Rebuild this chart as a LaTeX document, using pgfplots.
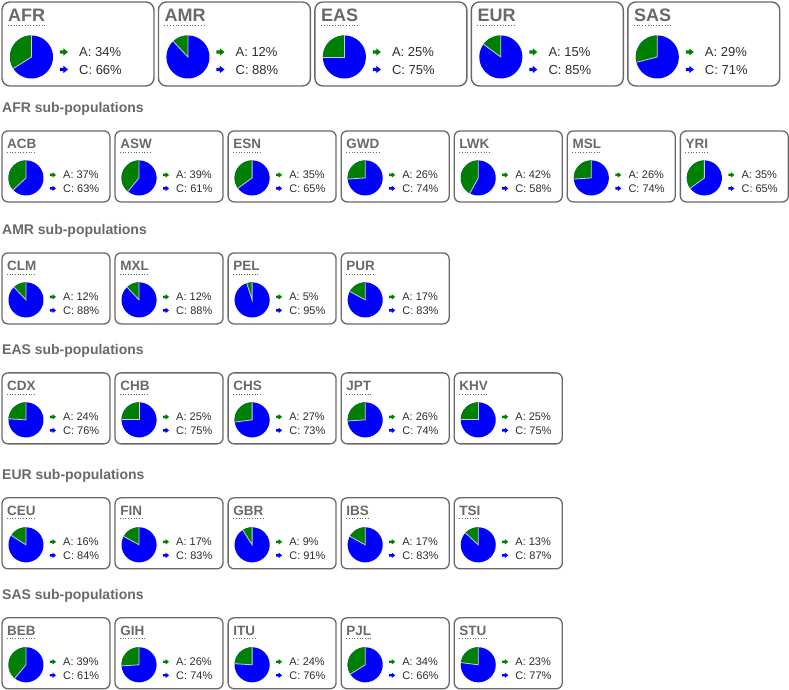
\documentclass[border=0pt]{standalone}
\usepackage{pgfplots}
\pgfplotsset{compat=1.18}
\usepackage{fontspec}
\setmainfont{Liberation Sans}
\definecolor{pgreen}{RGB}{0,128,0}
\definecolor{pblue}{RGB}{0,0,255}
\definecolor{boxgray}{RGB}{105,105,105}
\definecolor{titlegray}{RGB}{105,105,105}
\definecolor{txt}{RGB}{45,45,45}
\definecolor{sep}{RGB}{205,205,215}

% pie: cx, cy, r, A
\newcommand{\pie}[4]{%
  \addplot[fill=pblue, draw=none, domain=0:360, samples=91, variable=\t]
     ({#1+#3*cos(\t)},{#2-#3*sin(\t)}) -- cycle;
  \addplot[fill=pgreen, draw=none, domain=90:{90+3.6*#4}, samples=45, variable=\t]
     ({#1+#3*cos(\t)},{#2-#3*sin(\t)}) -- (axis cs:#1,#2) -- cycle;
  \draw[sep, line width=0.8pt] (axis cs:#1,{#2-#3}) -- (axis cs:#1,#2) -- (axis cs:{#1+#3*cos(90+3.6*#4)},{#2-#3*sin(90+3.6*#4)});
}
% arrow: color, x, y, scale
\newcommand{\arr}[4]{%
  \fill[#1] (axis cs:#2,#3) ++(0,{1.6*#4}) -- ++({3.5*#4},0) -- ++(0,{2*#4}) -- ++({4.5*#4},{-3.6*#4}) -- ++({-4.5*#4},{-3.6*#4}) -- ++(0,{2*#4}) -- ++({-3.5*#4},0) -- cycle;
}
% big box: x0, name, A, C
\newcommand{\bigbox}[4]{%
  \draw[boxgray, line width=1.4pt, rounded corners=8pt] (axis cs:#1,2) rectangle (axis cs:{#1+152},86);
  \node[anchor=base west, inner sep=0pt, font=\fontsize{18}{20}\selectfont\bfseries, text=titlegray] (T) at (axis cs:{#1+6},22) {#2};
  \draw[titlegray, dotted, line width=0.8pt] ([yshift=-3pt]T.base west) -- ([yshift=-3pt]T.base east);
  \pie{#1+29.5}{57}{21.5}{#3}
  \arr{pgreen}{#1+58}{52}{1}
  \arr{pblue}{#1+58}{69.5}{1}
  \node[anchor=west, inner sep=0pt, font=\fontsize{13}{15}\selectfont, text=txt] at (axis cs:{#1+77},52.5) {A: #3\%};
  \node[anchor=west, inner sep=0pt, font=\fontsize{13}{15}\selectfont, text=txt] at (axis cs:{#1+77},70) {C: #4\%};
}
% small box: x0, y0, name, A, C
\newcommand{\smallbox}[5]{%
  \draw[boxgray, line width=1.3pt, rounded corners=6pt] (axis cs:#1,#2) rectangle (axis cs:{#1+108},{#2+71});
  \node[anchor=base west, inner sep=0pt, font=\fontsize{13.5}{15}\selectfont\bfseries, text=titlegray] (T) at (axis cs:{#1+5},{#2+18}) {#3};
  \draw[titlegray, dotted, line width=0.7pt] ([yshift=-3pt]T.base west) -- ([yshift=-3pt]T.base east);
  \pie{#1+24}{#2+47}{17.5}{#4}
  \arr{pgreen}{#1+48}{#2+44}{0.75}
  \arr{pblue}{#1+48}{#2+57.5}{0.75}
  \node[anchor=west, inner sep=0pt, font=\fontsize{11}{13}\selectfont, text=txt] at (axis cs:{#1+61},{#2+44}) {A: #4\%};
  \node[anchor=west, inner sep=0pt, font=\fontsize{11}{13}\selectfont, text=txt] at (axis cs:{#1+61},{#2+57.5}) {C: #5\%};
}
\newcommand{\header}[2]{%
  \node[anchor=base west, inner sep=0pt, font=\fontsize{14}{16}\selectfont\bfseries, text=titlegray] at (axis cs:2,#1) {#2};
}

\begin{document}
\begin{tikzpicture}
\begin{axis}[hide axis, scale only axis, width=789pt, height=690pt,
  xmin=0, xmax=789, ymin=0, ymax=690, y dir=reverse, clip=false]
\path (axis cs:0,0) rectangle (axis cs:789,690);
% top row
\bigbox{2}{AFR}{34}{66}
\bigbox{158.5}{AMR}{12}{88}
\bigbox{315}{EAS}{25}{75}
\bigbox{471.5}{EUR}{15}{85}
\bigbox{628}{SAS}{29}{71}
% AFR
\header{113}{AFR sub-populations}
\smallbox{2}{131}{ACB}{37}{63}
\smallbox{115.1}{131}{ASW}{39}{61}
\smallbox{228.2}{131}{ESN}{35}{65}
\smallbox{341.3}{131}{GWD}{26}{74}
\smallbox{454.4}{131}{LWK}{42}{58}
\smallbox{567.5}{131}{MSL}{26}{74}
\smallbox{680.6}{131}{YRI}{35}{65}
% AMR
\header{235}{AMR sub-populations}
\smallbox{2}{253}{CLM}{12}{88}
\smallbox{115.1}{253}{MXL}{12}{88}
\smallbox{228.2}{253}{PEL}{5}{95}
\smallbox{341.3}{253}{PUR}{17}{83}
% EAS
\header{355}{EAS sub-populations}
\smallbox{2}{373}{CDX}{24}{76}
\smallbox{115.1}{373}{CHB}{25}{75}
\smallbox{228.2}{373}{CHS}{27}{73}
\smallbox{341.3}{373}{JPT}{26}{74}
\smallbox{454.4}{373}{KHV}{25}{75}
% EUR
\header{480}{EUR sub-populations}
\smallbox{2}{498}{CEU}{16}{84}
\smallbox{115.1}{498}{FIN}{17}{83}
\smallbox{228.2}{498}{GBR}{9}{91}
\smallbox{341.3}{498}{IBS}{17}{83}
\smallbox{454.4}{498}{TSI}{13}{87}
% SAS
\header{600}{SAS sub-populations}
\smallbox{2}{618}{BEB}{39}{61}
\smallbox{115.1}{618}{GIH}{26}{74}
\smallbox{228.2}{618}{ITU}{24}{76}
\smallbox{341.3}{618}{PJL}{34}{66}
\smallbox{454.4}{618}{STU}{23}{77}
\end{axis}
\end{tikzpicture}
\end{document}
